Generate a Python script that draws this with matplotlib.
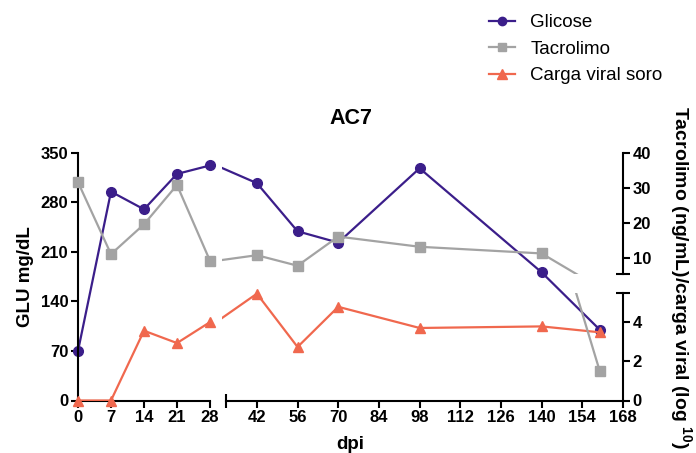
import numpy as np
import matplotlib
matplotlib.use('Agg')
import matplotlib.pyplot as plt
from matplotlib.lines import Line2D

plt.rcParams['font.family'] = ['Liberation Sans', 'DejaVu Sans']
plt.rcParams['mathtext.fontset'] = 'custom'
plt.rcParams['mathtext.rm'] = 'Liberation Sans'
plt.rcParams['mathtext.bf'] = 'Liberation Sans:bold'

# dados (dpi = dias pós-infecção)
dpi = [0, 7, 14, 21, 28, 42, 56, 70, 98, 140, 160]
glicose = [70, 295, 270, 320, 332, 307, 239, 223, 328, 181, 100]
tacrolimo = [31.6, 11.1, 19.6, 30.8, 9.2, 10.8, 7.8, 16.1, 13.2, 11.3, 1.5]
carga_viral = [0, 0, 3.56, 2.93, 4.0, 5.45, 2.73, 4.78, 3.7, 3.78, 3.48]

c_glic = '#3b1e8a'
c_tac = '#a3a3a3'
c_carga = '#f0684e'

W, H = 696, 453
fig = plt.figure(figsize=(W / 100, H / 100), dpi=100)


def box(x0, x1, ytop, ybot):
    # pixel box -> figure fraction
    return [x0 / W, 1 - ybot / H, (x1 - x0) / W, (ybot - ytop) / H]


y_top, y_bot = 152.7, 400.5
seg1 = (78, 210)
seg2 = (222, 623)
up_bot, low_top = 273.8, 292.7

ax1 = fig.add_axes(box(*seg1, y_top, y_bot))
ax2 = fig.add_axes(box(*seg2, y_top, y_bot))
r1u = fig.add_axes(box(*seg1, y_top, up_bot))
r1l = fig.add_axes(box(*seg1, low_top, y_bot))
r2u = fig.add_axes(box(*seg2, y_top, up_bot))
r2l = fig.add_axes(box(*seg2, low_top, y_bot))

for ax in (ax1, r1u, r1l):
    ax.set_xlim(0, 28)
for ax in (ax2, r2u, r2l):
    ax.set_xlim(30, 168)
for ax in (ax1, ax2):
    ax.set_ylim(0, 350)
for ax in (r1u, r2u):
    ax.set_ylim(5.5, 40)
for ax in (r1l, r2l):
    ax.set_ylim(0, 5.5)

for ax in fig.axes:
    ax.patch.set_visible(False)
    for s in ax.spines.values():
        s.set_visible(False)
        s.set_linewidth(1.5)
    ax.set_xticks([])
    ax.set_yticks([])
    ax.tick_params(width=1.5, length=5, labelsize=12, pad=2)


def draw(ax, x, y, color, marker, ms):
    x = np.asarray(x, float)
    y = np.asarray(y, float)
    ax.plot(x, y, color=color, lw=1.6)
    x0, x1 = ax.get_xlim()
    y0, y1 = ax.get_ylim()
    m = (x >= x0) & (x <= x1) & (y >= y0) & (y <= y1)
    ax.plot(x[m], y[m], ls='none', marker=marker, color=color, ms=ms, clip_on=False)


for ax in (ax1, ax2):
    draw(ax, dpi, glicose, c_glic, 'o', 7)
# carga viral fica toda no segmento inferior
for ax in (r1l, r2l):
    draw(ax, dpi, carga_viral, c_carga, '^', 7.5)
for ax in (r1u, r1l, r2u, r2l):
    draw(ax, dpi, tacrolimo, c_tac, 's', 7)

# eixo esquerdo + eixo x
ax1.spines['left'].set_visible(True)
ax1.spines['bottom'].set_visible(True)
ax1.set_yticks(np.arange(0, 351, 70))
ax1.set_xticks([0, 7, 14, 21, 28])
ax1.set_xticks([28], minor=True)
ax1.tick_params(axis='x', which='minor', direction='inout', length=10, width=1.5)

ax2.spines['bottom'].set_visible(True)
ax2.spines['bottom'].set_bounds(31.3, 168)
ax2.set_xticks(np.arange(42, 169, 14))
ax2.set_xticks([31.3], minor=True)
ax2.tick_params(axis='x', which='minor', direction='inout', length=10, width=1.5)

# eixo direito quebrado
for ax, ticks, caps in ((r2u, [10, 20, 30, 40], [5.5, 40]), (r2l, [0, 2, 4], [5.5])):
    ax.spines['right'].set_visible(True)
    ax.yaxis.tick_right()
    ax.set_yticks(ticks)
    ax.set_yticks(caps, minor=True)
    ax.tick_params(axis='y', which='minor', direction='inout', length=10, width=1.5)

for ax in fig.axes:
    for lab in ax.get_xticklabels() + ax.get_yticklabels():
        lab.set_fontweight('bold')

cx = (78 + 623) / 2 / W
fig.text(cx, 1 - 118 / H, 'AC7', ha='center', va='center', fontsize=15.5, fontweight='bold')
fig.text(cx, 1 - 449 / H, 'dpi', ha='center', va='baseline', fontsize=13.5, fontweight='bold')
fig.text(25 / W, 1 - 276.6 / H, 'GLU mg/dL', ha='center', va='center', rotation=90,
         fontsize=13.5, fontweight='bold')
fig.text(680 / W, 1 - 277.5 / H, r'Tacrolimo (ng/mL)/carga viral (log ${}^{\mathbf{10}}$)',
         ha='center', va='center', rotation=270, fontsize=14, fontweight='bold')

handles = [
    Line2D([], [], color=c_glic, marker='o', lw=1.6, ms=6),
    Line2D([], [], color=c_tac, marker='s', lw=1.6, ms=6),
    Line2D([], [], color=c_carga, marker='^', lw=1.6, ms=6.5),
]
fig.legend(handles, ['Glicose', 'Tacrolimo', 'Carga viral soro'], loc='upper left',
           bbox_to_anchor=(489 / W, 1 - 14 / H), frameon=False, fontsize=13.5,
           handlelength=1.4, handletextpad=0.8, labelspacing=0.51,
           borderpad=0, borderaxespad=0)

fig.savefig('out.png', dpi=100)
